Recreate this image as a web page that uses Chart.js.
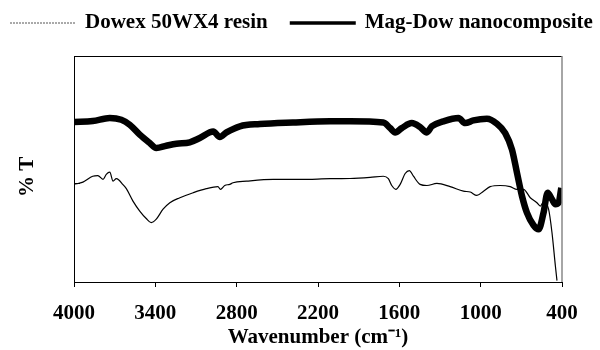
<!DOCTYPE html>
<html>
<head>
<meta charset="utf-8">
<script src="https://cdn.jsdelivr.net/npm/chart.js@4.4.1/dist/chart.umd.min.js"></script>
<style>
  body { margin: 0; background: #fff; }
</style>
</head>
<body>
<canvas id="ftir" width="600" height="350"></canvas>
<script>
// wavenumbers (cm-1) and %T
const dowexWave = [4000, 3934, 3862, 3824, 3786, 3762, 3736, 3712, 3688, 3669, 3640, 3614, 3565, 3515, 3467, 3430, 3393, 3343, 3293, 3219, 3121, 3024, 2938, 2920, 2888, 2851, 2827, 2727, 2530, 2333, 2111, 1964, 1816, 1718, 1681, 1656, 1626, 1594, 1557, 1526, 1496, 1447, 1397, 1323, 1225, 1127, 1077, 1028, 979, 930, 856, 782, 732, 684, 634, 585, 560, 536, 499, 474, 449, 437];
const dowexT = [43.2, 44.2, 46.8, 47.1, 45.4, 47.6, 48.6, 44.6, 45.7, 45.1, 43.2, 41.3, 35.8, 31.4, 28.1, 26.3, 27.8, 32.2, 35.1, 37.3, 39.5, 41.3, 42.2, 41.0, 42.7, 43.2, 43.9, 44.6, 45.4, 45.4, 45.7, 45.8, 46.3, 46.8, 45.7, 42.7, 41.0, 43.2, 48.0, 49.3, 46.8, 43.2, 42.7, 43.6, 42.2, 40.2, 39.8, 38.3, 40.2, 42.2, 42.7, 42.2, 41.0, 41.0, 37.3, 35.1, 33.6, 35.4, 32.2, 21.9, 7.2, 0.6];

const magWave = [4000, 3862, 3736, 3651, 3589, 3515, 3441, 3393, 3319, 3244, 3146, 3072, 2973, 2924, 2875, 2776, 2629, 2385, 2111, 1964, 1718, 1668, 1631, 1582, 1508, 1447, 1397, 1360, 1275, 1164, 1114, 1053, 954, 880, 819, 769, 732, 695, 659, 610, 573, 536, 506, 474, 449, 425, 405];
const magT = [70.8, 71.2, 72.6, 71.8, 69.6, 65.2, 61.5, 59.3, 60.3, 61.2, 61.8, 63.7, 66.6, 64.2, 66.2, 68.9, 69.9, 70.6, 71.1, 71.1, 70.6, 68.1, 66.2, 68.1, 70.3, 68.6, 66.2, 68.9, 71.1, 72.6, 70.3, 71.5, 72.2, 70.0, 65.9, 58.6, 48.3, 38.0, 30.7, 25.1, 23.3, 30.7, 39.5, 36.6, 34.4, 35.1, 41.7];

const xTicks = [4000, 3400, 2800, 2200, 1600, 1000, 400];
const yTicks = [43.6];

const serif = "'Liberation Serif', 'Times New Roman', serif";

function toPoints(xs, ys) {
  return xs.map((x, i) => ({ x: x, y: ys[i] }));
}

// legend drawn by hand so both entries fit on one line
const topLegend = {
  id: 'topLegend',
  afterDraw(chart) {
    const ctx = chart.ctx;
    const styles = [
      { width: 1, color: '#555', dash: [2, 1] },
      { width: 3.5, color: '#000', dash: [] }
    ];
    ctx.save();
    ctx.font = 'bold 21px ' + serif;
    ctx.textBaseline = 'middle';
    ctx.textAlign = 'left';
    let x = 10;
    const y = 23;
    chart.data.datasets.forEach((ds, i) => {
      const s = styles[i];
      ctx.beginPath();
      ctx.setLineDash(s.dash);
      ctx.lineWidth = s.width;
      ctx.strokeStyle = s.color;
      ctx.moveTo(x, y);
      ctx.lineTo(x + 66, y);
      ctx.stroke();
      ctx.setLineDash([]);
      ctx.fillStyle = '#000';
      ctx.fillText(ds.label, x + 75, y);
      x += 75 + ctx.measureText(ds.label).width + 22;
    });
    ctx.restore();
  }
};

// top and right edges of the plot box, plus the inward y tick
const frame = {
  id: 'frame',
  afterDraw(chart) {
    const a = chart.chartArea;
    const ctx = chart.ctx;
    const yScale = chart.scales.y;
    ctx.save();
    ctx.lineWidth = 1;
    ctx.strokeStyle = '#000';
    ctx.beginPath();
    ctx.moveTo(a.left, a.top + 0.5);
    ctx.lineTo(a.right, a.top + 0.5);
    yTicks.forEach(v => {
      const py = Math.round(yScale.getPixelForValue(v)) + 0.5;
      ctx.moveTo(a.left, py);
      ctx.lineTo(a.left + 6, py);
    });
    ctx.stroke();
    ctx.strokeStyle = '#888';
    ctx.lineWidth = 1.5;
    ctx.beginPath();
    ctx.moveTo(a.right, a.top);
    ctx.lineTo(a.right, a.bottom);
    ctx.stroke();
    ctx.restore();
  }
};

new Chart(document.getElementById('ftir'), {
  type: 'line',
  data: {
    datasets: [{
      label: 'Dowex 50WX4 resin',
      data: toPoints(dowexWave, dowexT),
      borderColor: '#000',
      borderWidth: 1.2,
      pointRadius: 0,
      cubicInterpolationMode: 'monotone'
    }, {
      label: 'Mag-Dow nanocomposite',
      data: toPoints(magWave, magT),
      borderColor: '#000',
      borderWidth: 6.5,
      pointRadius: 0,
      cubicInterpolationMode: 'monotone'
    }]
  },
  options: {
    responsive: false,
    animation: false,
    layout: { padding: { top: 56, right: 38, left: 0, bottom: 0 } },
    plugins: {
      legend: { display: false },
      tooltip: { enabled: false }
    },
    scales: {
      x: {
        type: 'linear',
        reverse: true,
        min: 400,
        max: 4000,
        afterBuildTicks: axis => { axis.ticks = xTicks.map(v => ({ value: v })); },
        afterFit: axis => { axis.height = 68; },
        ticks: {
          color: '#000',
          padding: 14,
          maxRotation: 0,
          callback: v => String(v),
          font: { family: serif, size: 21, weight: 'bold' }
        },
        grid: { drawOnChartArea: false, tickLength: 5, color: '#000' },
        border: { color: '#000', width: 1 },
        title: {
          display: true,
          text: 'Wavenumber (cm\u207B\u00B9)',
          color: '#000',
          padding: 0,
          font: { family: serif, size: 21, weight: 'bold' }
        }
      },
      y: {
        min: 0,
        max: 100,
        afterBuildTicks: axis => { axis.ticks = yTicks.map(v => ({ value: v })); },
        afterFit: axis => { axis.width = 74; },
        ticks: { display: false },
        grid: { display: false },
        border: { color: '#000', width: 1 },
        title: {
          display: true,
          text: '% T   ',
          color: '#000',
          padding: { top: 15 },
          font: { family: serif, size: 21, weight: 'bold' }
        }
      }
    }
  },
  plugins: [topLegend, frame]
});
</script>
</body>
</html>
